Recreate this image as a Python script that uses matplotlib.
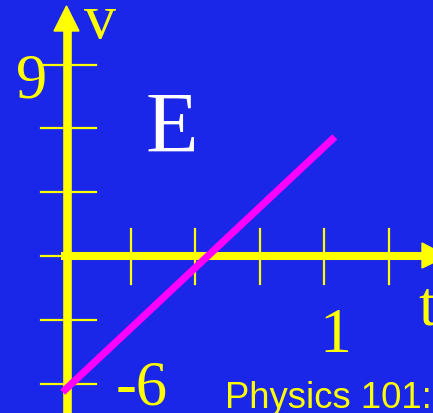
import matplotlib
matplotlib.use("Agg")
import matplotlib.pyplot as plt
from matplotlib.patches import Polygon

# ---- data ----
t_ticks = [0.25, 0.5, 0.75, 1.0, 1.25]
v_ticks = [-6, -3, 0, 3, 6, 9]
line_t = [-0.015, 1.04]
line_v = [-6.4, 5.6]
v_labels = {9: "9", -6: "-6"}
t_labels = {1.0: "1"}

BG = "#1a26e8"
YEL = "#ffff00"
MAG = "#ff00ff"

W, H = 433, 414
fig = plt.figure(figsize=(W / 100, H / 100), dpi=100)
fig.patch.set_facecolor(BG)
ax = fig.add_axes([0, 0, 1, 1])
ax.set_facecolor(BG)

X0, SX = 66.5, 258.0   # pixel of t=0, pixels per unit t
Y0, SY = 257, 21.27    # pixel of v=0, pixels per unit v
def px(x):
    return (x - X0) / SX
def py(y):
    return (Y0 - y) / SY

ax.set_xlim(px(0), px(W))
ax.set_ylim(py(H), py(0))
ax.axis("off")

# axes lines
ax.plot([0, 0], [py(H + 10), py(30)], color=YEL, lw=6.2, solid_capstyle="butt", zorder=2)
ax.plot([px(61), px(423)], [0, 0], color=YEL, lw=5.8, solid_capstyle="butt", zorder=2)
# arrowheads
ax.add_patch(Polygon([[px(54), py(32)], [px(79), py(32)], [0, py(7)]], closed=True,
                     color=YEL, zorder=2))
ax.add_patch(Polygon([[px(422), py(244)], [px(422), py(269)], [px(447), 0]], closed=True,
                     color=YEL, zorder=2, clip_on=True))

# ticks
for v in v_ticks:
    ax.plot([px(41), px(96)], [v, v], color=YEL, lw=1.6, zorder=2)
for t in t_ticks:
    ax.plot([t, t], [py(230), py(285)], color=YEL, lw=1.6, zorder=2)

# the line
ax.plot(line_t, line_v, color=MAG, lw=5.2, solid_capstyle="butt", zorder=3)

serif = "Liberation Serif"
ax.text(px(47), v_ticks[-1] + (py(97) - 9), v_labels[9], color=YEL, fontsize=45,
        family=serif, ha="right", va="baseline")
ax.text(px(116), py(405), v_labels[-6], color=YEL, fontsize=45,
        family=serif, ha="left", va="baseline")
ax.text(1.0 + px(335) - px(324), py(352), t_labels[1.0], color=YEL, fontsize=46,
        family=serif, ha="center", va="baseline")
ax.text(px(100), py(38), "v", color=YEL, fontsize=46, family=serif,
        ha="center", va="baseline")
ax.text(px(418), py(325), "t", color=YEL, fontsize=46, family=serif,
        ha="left", va="baseline")
ax.text(px(146), py(152), "E", color="white", fontsize=62, family=serif,
        ha="left", va="baseline")
ax.text(px(225), py(408), "Physics 101:", color=YEL, fontsize=26.3,
        family="Liberation Sans", ha="left", va="baseline")

fig.savefig("out.png", dpi=100, facecolor=BG)
